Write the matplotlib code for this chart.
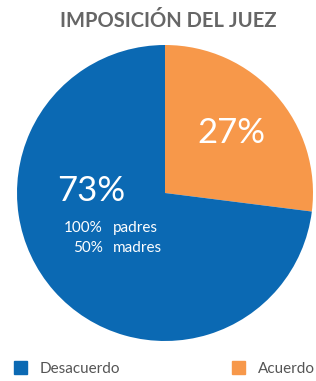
import matplotlib
matplotlib.use("Agg")
import matplotlib.pyplot as plt
from matplotlib.patches import Rectangle

# data
labels = ["Acuerdo", "Desacuerdo"]
values = [27, 73]
colors = ["#f7984a", "#0b69b3"]
title = "IMPOSICIÓN DEL JUEZ"
sub_pcts = ["100%", "50%"]
sub_names = ["padres", "madres"]

W, H = 316, 381
fig = plt.figure(figsize=(W / 100, H / 100), dpi=100)

# pie: center (165,193) px, radius 148 px
cx, cy, r = 165, 193, 148
ax = fig.add_axes([(cx - r) / W, (H - cy - r) / H, 2 * r / W, 2 * r / H])
ax.pie(values, colors=colors, startangle=90, counterclock=False, radius=1,
       wedgeprops=dict(linewidth=0))
ax.set_xlim(-1, 1)
ax.set_ylim(-1, 1)
ax.axis("off")

font = ["Lato", "DejaVu Sans"]

def px(x, y):
    return x / W, 1 - y / H

fig.text(*px(168, 21), title, ha="center", va="center", fontsize=14.5,
         fontweight="bold", color="#666666", family=font)

fig.text(*px(91, 191), f"{values[1]}%", ha="center", va="center", fontsize=25,
         color="white", family=font)
fig.text(*px(231, 133), f"{values[0]}%", ha="center", va="center", fontsize=25,
         color="white", family=font)

for i, (p, n) in enumerate(zip(sub_pcts, sub_names)):
    y = 228 + i * 20
    fig.text(*px(103, y), p, ha="right", va="center", fontsize=11,
             color="white", family=font)
    fig.text(*px(113, y), n, ha="left", va="center", fontsize=11,
             color="white", family=font)

# legend
for (x0, lab, col) in [(14, labels[1], colors[1]), (232, labels[0], colors[0])]:
    fig.patches.append(Rectangle(px(x0, 374), 13 / W, 13 / H, color=col,
                                 transform=fig.transFigure, figure=fig))
    fig.text(*px(x0 + 26, 369), lab, ha="left", va="center", fontsize=11,
             color="#555555", family=font)

fig.savefig("out.png", dpi=100)
